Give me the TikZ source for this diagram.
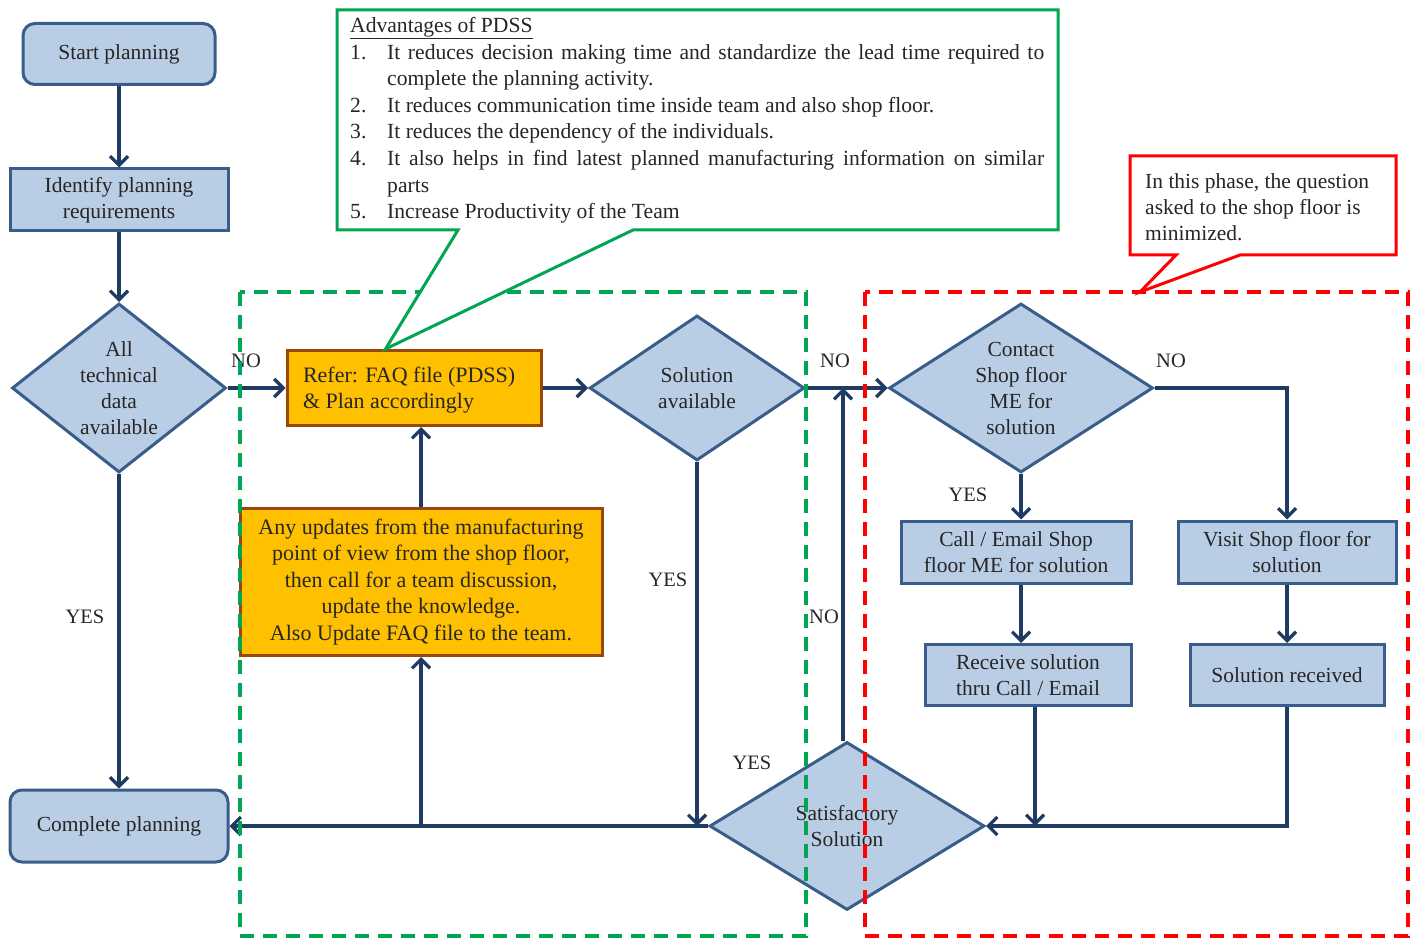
\documentclass[tikz,border=0pt]{standalone}
\usepackage{fontspec}
\setmainfont{Liberation Serif}
\usetikzlibrary{shapes.geometric,arrows.meta,calc}
\definecolor{boxfill}{HTML}{B9CDE5}
\definecolor{boxline}{HTML}{385D8A}
\definecolor{flow}{HTML}{1F3A63}
\definecolor{orangefill}{HTML}{FFC000}
\definecolor{orangeline}{HTML}{984807}
\definecolor{phasegreen}{HTML}{00A651}
\definecolor{phasered}{HTML}{FF0000}
\definecolor{ink}{HTML}{262626}
\tikzset{
  bluebox/.style={draw=boxline, fill=boxfill, line width=3pt, inner sep=0pt,
    align=center, text=ink, font=\fontsize{21.5}{26}\selectfont},
  roundbox/.style={bluebox, rounded corners=12pt},
  dia/.style={draw=boxline, fill=boxfill, line width=3pt, shape=diamond, inner sep=0pt},
  diatext/.style={align=center, text=ink, font=\fontsize{21.5}{26}\selectfont},
  orangebox/.style={draw=orangeline, fill=orangefill, line width=3pt, text=ink,
    font=\fontsize{22}{26.5}\selectfont},
  arr/.style={draw=flow, line width=3.4pt, -{Straight Barb[length=9pt,width=18pt,line width=3.2pt]}},
  tag/.style={text=ink, font=\fontsize{20.5}{22}\selectfont, inner sep=0pt},
  phase/.style={line width=3.4pt, dash pattern=on 14pt off 9pt},
  callout/.style={fill=white, line width=3pt, line join=miter},
}
% one numbered entry of the advantages list, with a hanging indent
\newcommand{\advitem}[2]{\par\hangindent=37pt\hangafter=1\noindent\makebox[37pt][l]{#1}#2}
\begin{document}
\begin{tikzpicture}[x=1pt,y=-1pt]
\useasboundingbox (0,0) rectangle (1418,941);

% left column
\node[roundbox, minimum width=192pt, minimum height=61pt] (start) at (119,54) {Start planning};
\node[bluebox, minimum width=218pt, minimum height=62pt] (ident) at (119,200) {Identify planning\\requirements};
\node[dia, minimum width=214pt, minimum height=169pt,
  label={[diatext]center:All\\technical\\data\\available}] (alldata) at (119,388) {};
\node[roundbox, minimum width=218pt, minimum height=72pt] (complete) at (119,826) {Complete planning};

% FAQ phase
\node[orangebox, minimum width=254pt, minimum height=75pt, inner sep=0pt] (refer) at (414,388) {};
\node[orangebox, draw=none, fill=none, anchor=west, align=left, inner sep=0pt]
  (refertext) at ($(refer.west)+(16,2)$) {Refer: FAQ file (PDSS)\\\& Plan accordingly};
\node[orangebox, minimum width=362pt, minimum height=147pt, align=center, inner sep=0pt] (updates) at (421,582)
  {Any updates from the manufacturing\\point of view from the shop floor,\\then call for a team discussion,\\update the knowledge.\\Also Update FAQ file to the team.};
\node[dia, minimum width=215pt, minimum height=145pt,
  label={[diatext]center:Solution\\available}] (solav) at (697,388) {};

% shop floor phase
\node[dia, minimum width=264pt, minimum height=169pt,
  label={[diatext]center:Contact\\Shop floor\\ME for\\solution}] (contact) at (1021,388) {};
\node[bluebox, minimum width=230pt, minimum height=62pt] (call) at (1016,552) {Call / Email Shop\\floor ME for solution};
\node[bluebox, minimum width=218pt, minimum height=62pt] (visit) at (1287,552) {Visit Shop floor for\\solution};
\node[bluebox, minimum width=206pt, minimum height=61pt] (receive) at (1028,675) {Receive solution\\thru Call / Email};
\node[bluebox, minimum width=194pt, minimum height=61pt] (received) at (1287,675) {Solution received};
\node[dia, minimum width=275pt, minimum height=168pt,
  label={[diatext]center:Satisfactory\\Solution}] (satisf) at (847,826) {};

% connectors
\draw[arr] (start) -- (ident);
\draw[arr] (ident) -- (alldata.north);
\draw[arr] (alldata.east) -- (refer.west);
\draw[arr] (alldata.south) -- (complete.north);
\draw[arr] (refer.east) -- (solav.west);
\draw[arr] (solav.east) -- (contact.west);
\draw[arr] (solav.south) -- (solav.south |- satisf.west);
\draw[arr] (satisf.west) -- (complete.east);
\draw[arr] (updates.north) -- (updates.north |- refer.south);
\draw[arr] (updates.south |- satisf.west) -- (updates.south);
\coordinate (backup) at ([xshift=-4pt]satisf.north);
\draw[arr] (backup) -- (backup |- solav.east);
\draw[arr] (contact.south) -- (contact.south |- call.north);
\draw[arr] (contact.east) -| (visit.north);
\draw[arr] (contact.south |- call.south) -- (contact.south |- receive.north);
\draw[arr] (visit.south) -- (received.north);
\coordinate (recfoot) at ([xshift=7pt]receive.south);
\draw[arr] (recfoot) -- (recfoot |- satisf.east);
\draw[arr] (received.south) |- (satisf.east);

% branch labels
\node[tag] (l1) at (246,361) {NO};
\node[tag] (l2) at (85,617) {YES};
\node[tag] (l3) at (668,580) {YES};
\node[tag] (l4) at (835,361) {NO};
\node[tag] (l5) at (824,617) {NO};
\node[tag] (l6) at (752,763) {YES};
\node[tag] (l7) at (968,495) {YES};
\node[tag] (l8) at (1171,361) {NO};

% phase frames
\draw[phase, draw=phasegreen] (240,292) rectangle (806,936);
\draw[phase, draw=phasered] (865,292) rectangle (1408,936);

% callouts
\coordinate (gtip) at ($(refer.north west)+(100,0)$);
\draw[callout, draw=phasegreen] (337,10) -- (1058,10) -- (1058,230) -- (633,230) -- (gtip) -- (458,230) -- (337,230) -- cycle;
\node[anchor=north west, inner sep=0pt, text=ink, font=\fontsize{21.6}{26.6}\selectfont] (adv) at (350,17) {%
  \begin{minipage}[t]{694pt}
  \noindent\underline{Advantages of PDSS}
  \advitem{1.}{It reduces decision making time and standardize the lead time required to complete the planning activity.}
  \advitem{2.}{It reduces communication time inside team and also shop floor.}
  \advitem{3.}{It reduces the dependency of the individuals.}
  \advitem{4.}{It also helps in find latest planned manufacturing information on similar\linebreak parts}
  \advitem{5.}{Increase Productivity of the Team}\par
  \end{minipage}};

\draw[callout, draw=phasered] (1130,156) -- (1396,156) -- (1396,255) -- (1240,255) -- (1140,292) -- (1176,255) -- (1130,255) -- cycle;
\node[anchor=north west, inner sep=0pt, align=left, text=ink, font=\fontsize{21.5}{26}\selectfont] (phasenote) at (1145,173)
  {In this phase, the question\\asked to the shop floor is\\minimized.};
\end{tikzpicture}
\end{document}
